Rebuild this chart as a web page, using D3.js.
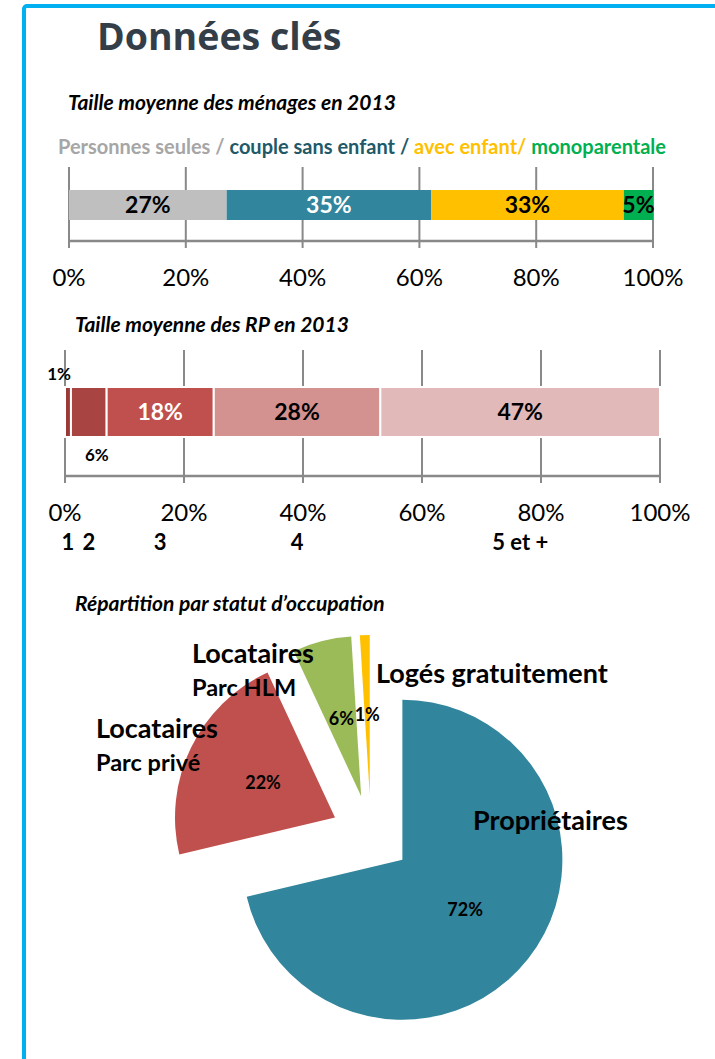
<!DOCTYPE html>
<html lang="fr">
<head>
<meta charset="UTF-8">
<title>Données clés</title>
<script src="https://cdn.jsdelivr.net/npm/d3@7"></script>
<style>
  body { margin: 0; background: #fff; }
  svg text { font-family: Lato, "Noto Sans", sans-serif; }
</style>
</head>
<body>
<div id="chart"></div>
<script>
// --- data ---
const menageCats = ["Personnes seules", "couple sans enfant", "avec enfant", "monoparentale"];
const menageVals = [27, 35, 33, 5];
const rpCats = ["1", "2", "3", "4", "5 et +"];
const rpVals = [1, 6, 18, 28, 47];
const statutCats = ["Propriétaires", "Locataires|Parc privé", "Locataires|Parc HLM", "Logés gratuitement"];
const statutVals = [72, 22, 6, 1];
const pctTicks = [0, 20, 40, 60, 80, 100];

// --- colours ---
const menageColors = ["#bfbfbf", "#31859c", "#ffc000", "#00b050"];
const menageText = ["#000", "#fff", "#000", "#000"];
const legendColors = ["#a6a6a6", "#215968", "#ffc000", "#00b050"];
const rpColors = ["#9a3937", "#a84543", "#c0504d", "#d39190", "#e2b9b9"];
const rpText = ["#000", "#000", "#fff", "#000", "#000"];
const pieColors = ["#31859c", "#c0504d", "#9bbb59", "#ffc000"];
const gridColor = "#898989";

const W = 715, H = 1059;
const svg = d3.select("#chart").append("svg")
    .attr("width", W).attr("height", H);

// frame
svg.append("rect")
    .attr("x", 24).attr("y", 6)
    .attr("width", W + 20).attr("height", H + 20)
    .attr("rx", 3)
    .attr("fill", "none")
    .attr("stroke", "#00b0f0")
    .attr("stroke-width", 4);

svg.append("text")
    .attr("x", 97).attr("y", 50)
    .style("font-family", "'Open Sans', sans-serif")
    .style("font-weight", 700)
    .style("font-size", "37.5px")
    .attr("fill", "#333e48")
    .text("Données clés");

function subtitle(txt, x, y) {
  svg.append("text")
      .attr("x", x).attr("y", y)
      .style("font-weight", 700).style("font-style", "italic")
      .style("font-size", "21px")
      .text(txt);
}

// draws gridlines, baseline and % tick labels
function pctAxis(x, top, base, labelY) {
  const g = svg.append("g");
  g.selectAll("line.grid").data(pctTicks).join("line")
      .attr("class", "grid")
      .attr("x1", d => x(d)).attr("x2", d => x(d))
      .attr("y1", top).attr("y2", base + 7)
      .attr("stroke", gridColor).attr("stroke-width", 2);
  g.append("line")
      .attr("x1", x(0) - 1).attr("x2", x(100) + 1)
      .attr("y1", base).attr("y2", base)
      .attr("stroke", gridColor).attr("stroke-width", 2.5);
  g.selectAll("text").data(pctTicks).join("text")
      .attr("x", d => x(d)).attr("y", labelY)
      .attr("text-anchor", "middle")
      .style("font-size", "24px")
      .text(d => d + "%");
}

function stack(vals) {
  const ends = d3.cumsum(vals);
  return vals.map((v, i) => ({ v, i, x0: ends[i] - v, x1: ends[i] }));
}

// ---------- chart 1 : ménages ----------
subtitle("Taille moyenne des ménages en 2013", 68, 110);

const leg = svg.append("text")
    .attr("x", 58).attr("y", 154)
    .style("font-weight", 700).style("font-size", "20px");
const legendParts = [menageCats[0] + " / ", menageCats[1] + " / ", menageCats[2] + "/ ", menageCats[3]];
leg.selectAll("tspan").data(legendParts).join("tspan")
    .attr("fill", (d, i) => legendColors[i])
    .text(d => d);

const x1 = d3.scaleLinear().domain([0, 100]).range([69, 653]);
pctAxis(x1, 167, 241, 286);
const s1 = stack(menageVals);
svg.append("g").selectAll("rect").data(s1).join("rect")
    .attr("x", d => x1(d.x0)).attr("width", d => x1(d.x1) - x1(d.x0))
    .attr("y", 190).attr("height", 30)
    .attr("fill", d => menageColors[d.i]);
svg.append("g").selectAll("text").data(s1).join("text")
    .attr("x", d => x1((d.x0 + d.x1) / 2)).attr("y", 213)
    .attr("text-anchor", "middle")
    .style("font-weight", 700).style("font-size", "23px")
    .attr("fill", d => menageText[d.i])
    .text(d => d.v + "%");

// ---------- chart 2 : RP ----------
subtitle("Taille moyenne des RP en 2013", 75, 332);

const x2 = d3.scaleLinear().domain([0, 100]).range([65, 660]);
pctAxis(x2, 350, 476, 521);
const s2 = stack(rpVals);
svg.append("g").selectAll("rect").data(s2).join("rect")
    .attr("x", d => x2(d.x0)).attr("width", d => x2(d.x1) - x2(d.x0))
    .attr("y", 387).attr("height", 50)
    .attr("fill", d => rpColors[d.i])
    .attr("stroke", "#fff").attr("stroke-width", 2);
svg.append("g").selectAll("text").data(s2).join("text")
    .attr("x", d => d.i === 0 ? x2(d.x1) : d.i === 1 ? x2((d.x0 + d.x1) / 2) + 8 : x2((d.x0 + d.x1) / 2))
    .attr("y", d => d.i === 0 ? 380 : d.i === 1 ? 461 : 420)
    .attr("text-anchor", d => d.i === 0 ? "end" : "middle")
    .style("font-weight", 700)
    .style("font-size", d => d.i < 2 ? "17px" : "23px")
    .attr("fill", d => rpText[d.i])
    .text(d => d.v + "%");
svg.append("g").selectAll("text").data(s2).join("text")
    .attr("x", d => x2((d.x0 + d.x1) / 2)).attr("y", 550)
    .attr("text-anchor", "middle")
    .style("font-weight", 700).style("font-size", "22px")
    .text(d => rpCats[d.i]);

// ---------- chart 3 : statut d'occupation ----------
subtitle("Répartition par statut d’occupation", 75, 611);

const cx = 371, cy = 835, r = 160, explode = 40;
const pie = d3.pie().sort(null).value(d => d)(statutVals);
const arc = d3.arc().innerRadius(0).outerRadius(r);
const off = d => {
  const a = (d.startAngle + d.endAngle) / 2;
  return [Math.sin(a) * explode, -Math.cos(a) * explode];
};
const pg = svg.append("g").attr("transform", `translate(${cx},${cy})`);
const slices = pg.selectAll("g").data(pie).join("g")
    .attr("transform", d => `translate(${off(d)})`);
slices.append("path")
    .attr("d", arc)
    .attr("fill", (d, i) => pieColors[i]);
slices.append("text")
    .attr("transform", d => `translate(${arc.centroid(d)})`)
    .attr("text-anchor", "middle")
    .attr("dy", "0.35em")
    .style("font-weight", 700).style("font-size", "18px")
    .text(d => d.data + "%");

// category labels, placed relative to the pie centre
const labelAt = [[102, -5], [-275, -97], [-179, -172], [5, -152]];
const lineGap = 33;
statutCats.forEach((c, i) => {
  const parts = c.split("|");
  const t = pg.append("text")
      .attr("x", labelAt[i][0]).attr("y", labelAt[i][1])
      .style("font-weight", 700);
  parts.forEach((p, j) => {
    t.append("tspan")
        .attr("x", labelAt[i][0])
        .attr("dy", j === 0 ? 0 : lineGap)
        .style("font-size", j === 0 ? "27px" : "23.5px")
        .text(p);
  });
});
</script>
</body>
</html>
